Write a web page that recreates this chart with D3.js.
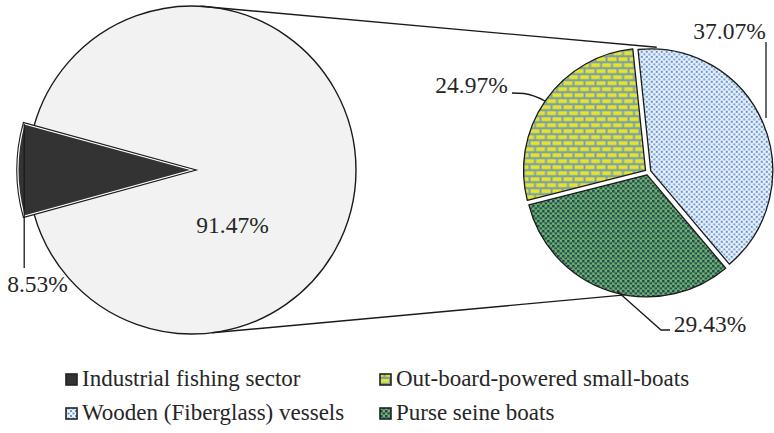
<!DOCTYPE html>
<html>
<head>
<meta charset="utf-8">
<script src="https://cdn.jsdelivr.net/npm/d3@7"></script>
<style>
  html, body { margin: 0; padding: 0; background: #ffffff; }
  svg { display: block; }
</style>
</head>
<body>
<svg id="chart" width="774" height="433"></svg>
<script>
// ---- data ----
const mainCategories = ["Industrial fishing sector", "Other"];
const mainValues = [8.53, 91.47];
const subCategories = ["Wooden (Fiberglass) vessels", "Purse seine boats", "Out-board-powered small-boats"];
const subValues = [37.07, 29.43, 24.97];
const legendCategories = [
  "Industrial fishing sector", "Out-board-powered small-boats",
  "Wooden (Fiberglass) vessels", "Purse seine boats"
];

const FONT = '"Liberation Serif"';
const svg = d3.select("#chart");
const deg = Math.PI / 180;
const fmt = v => d3.format(".2f")(v) + "%";

// ---- fill patterns ----
const defs = svg.append("defs");

// light blue speckle
const pBlue = defs.append("pattern").attr("id", "pat-blue")
  .attr("patternUnits", "userSpaceOnUse").attr("width", 5).attr("height", 5);
pBlue.append("rect").attr("width", 5).attr("height", 5).attr("fill", "#edf3fb");
pBlue.append("rect").attr("x", 0).attr("y", 0).attr("width", 2).attr("height", 2).attr("fill", "#6494cf");
pBlue.append("rect").attr("x", 2.5).attr("y", 2.5).attr("width", 2).attr("height", 2).attr("fill", "#6494cf");

// green with dark dots
const pGreen = defs.append("pattern").attr("id", "pat-green")
  .attr("patternUnits", "userSpaceOnUse").attr("width", 5).attr("height", 5);
pGreen.append("rect").attr("width", 5).attr("height", 5).attr("fill", "#74b862");
pGreen.append("rect").attr("x", 0).attr("y", 0).attr("width", 2.5).attr("height", 2.5).attr("fill", "#1d4260");
pGreen.append("rect").attr("x", 2.5).attr("y", 2.5).attr("width", 2.5).attr("height", 2).attr("fill", "#1d4260");

// yellow bricks
const pBrick = defs.append("pattern").attr("id", "pat-brick")
  .attr("patternUnits", "userSpaceOnUse").attr("width", 11).attr("height", 12);
pBrick.append("rect").attr("width", 11).attr("height", 12).attr("fill", "#7aa2a6");
pBrick.append("rect").attr("x", 0.5).attr("y", 1).attr("width", 9).attr("height", 3.8).attr("fill", "#e6e22e");
pBrick.append("rect").attr("x", -5).attr("y", 7).attr("width", 9).attr("height", 3.8).attr("fill", "#e6e22e");
pBrick.append("rect").attr("x", 6).attr("y", 7).attr("width", 9).attr("height", 3.8).attr("fill", "#e6e22e");

const mainFills = ["#333333", "#f2f2f2"];
const subFills = ["url(#pat-blue)", "url(#pat-green)", "url(#pat-brick)"];
const legendFill = {
  "Industrial fishing sector": "#333333",
  "Out-board-powered small-boats": "url(#pat-brick)",
  "Wooden (Fiberglass) vessels": "url(#pat-blue)",
  "Purse seine boats": "url(#pat-green)"
};

// ---- geometry ----
const big = { cx: 192, cy: 170, r: 164, rOut: 174 };
const small = { cx: 648, cy: 172, r: 122, explode: 3 };
const polar = (cx, cy, r, a) => [cx + r * Math.sin(a), cy - r * Math.cos(a)];

// ---- main pie: the dark sector centred on the left ----
const mainHalf = mainValues[0] / d3.sum(mainValues) * Math.PI;
const mainPie = d3.pie().sort(null)
  .startAngle(270 * deg - mainHalf)
  .endAngle(270 * deg - mainHalf + 2 * Math.PI);
const mainArcs = mainPie(mainValues);

const gBig = svg.append("g").attr("transform", `translate(${big.cx},${big.cy})`);
const arcRest = d3.arc().innerRadius(0).outerRadius(big.r);
const arcDark = d3.arc().innerRadius(0).outerRadius(big.rOut);

gBig.append("path")
  .attr("d", arcRest(mainArcs[1]))
  .attr("fill", mainFills[1])
  .attr("stroke", "#1a1a1a").attr("stroke-width", 1.4);

// dark sector with a double outline
gBig.append("path")
  .attr("d", arcDark(mainArcs[0]))
  .attr("fill", "none")
  .attr("stroke", "#1a1a1a").attr("stroke-width", 3.4)
  .attr("stroke-linejoin", "miter");
gBig.append("path")
  .attr("d", arcDark(mainArcs[0]))
  .attr("fill", mainFills[0])
  .attr("stroke", "#ffffff").attr("stroke-width", 1.2);

// ---- secondary pie ----
const subPie = d3.pie().sort(null)
  .startAngle(-6 * deg).endAngle(354 * deg);
const subArcs = subPie(subValues);
const arcSub = d3.arc().innerRadius(0).outerRadius(small.r);

const gSmall = svg.append("g").attr("transform", `translate(${small.cx},${small.cy})`);
gSmall.selectAll("path.slice")
  .data(subArcs)
  .join("path")
  .attr("class", "slice")
  .attr("d", arcSub)
  .attr("fill", (d, i) => subFills[i])
  .attr("stroke", "#1a1a1a").attr("stroke-width", 1.3)
  .attr("stroke-linejoin", "round")
  .attr("transform", d => {
    const m = (d.startAngle + d.endAngle) / 2;
    const [x, y] = polar(0, 0, small.explode, m);
    return `translate(${x},${y})`;
  });

// ---- connector lines between the pies ----
const conn = svg.append("g").attr("stroke", "#1a1a1a").attr("stroke-width", 1.4).attr("fill", "none");
const t0 = polar(big.cx, big.cy, big.r, 3 * deg);
const t1 = polar(small.cx, small.cy, small.r + small.explode, 4 * deg);
const b0 = polar(big.cx, big.cy, big.r, 173 * deg);
const b1 = polar(small.cx, small.cy, small.r + small.explode, 190.5 * deg);
conn.append("line").attr("x1", t0[0]).attr("y1", t0[1]).attr("x2", t1[0]).attr("y2", t1[1]);
conn.append("line").attr("x1", b0[0]).attr("y1", b0[1]).attr("x2", b1[0]).attr("y2", b1[1]);

// ---- value labels and leader lines ----
const labelSize = 23.5;
const leaders = svg.append("g").attr("stroke", "#1a1a1a").attr("stroke-width", 1.3).attr("fill", "none");
const labels = svg.append("g");
const addLabel = (x, y, txt) => labels.append("text")
  .attr("x", x).attr("y", y)
  .attr("text-anchor", "middle")
  .style("font-family", FONT)
  .style("font-size", labelSize + "px")
  .style("fill", "#262626")
  .text(txt);

// dark sector
const darkCorner = polar(big.cx, big.cy, big.rOut, mainArcs[0].endAngle);
leaders.append("path").attr("d", `M${darkCorner[0]},${darkCorner[1]} V268`);
addLabel(37.5, 292, fmt(mainValues[0]));

// rest of main pie
addLabel(232.5, 233, fmt(mainValues[1]));

// wooden vessels
leaders.append("path").attr("d", "M766,42 V118");
addLabel(729.5, 39, fmt(subValues[0]));

// out-board small boats
leaders.append("path").attr("d", "M512,93 L524,93.5 Q534,95 545,101");
addLabel(471.5, 93, fmt(subValues[2]));

// purse seine boats
leaders.append("path").attr("d", "M617,291 L661,330 H670");
addLabel(710, 332, fmt(subValues[1]));

// ---- legend ----
const legendX = [66, 380];
const legendY = [386, 420];
const legend = svg.append("g");
legendCategories.forEach((name, i) => {
  const x = legendX[i % 2], y = legendY[Math.floor(i / 2)];
  legend.append("rect")
    .attr("x", x).attr("y", y - 12).attr("width", 11).attr("height", 11)
    .attr("fill", legendFill[name])
    .attr("stroke", "#222").attr("stroke-width", 1.6);
  legend.append("text")
    .attr("x", x + 16).attr("y", y)
    .style("font-family", FONT)
    .style("font-size", "23px")
    .style("fill", "#262626")
    .text(name);
});
</script>
</body>
</html>
